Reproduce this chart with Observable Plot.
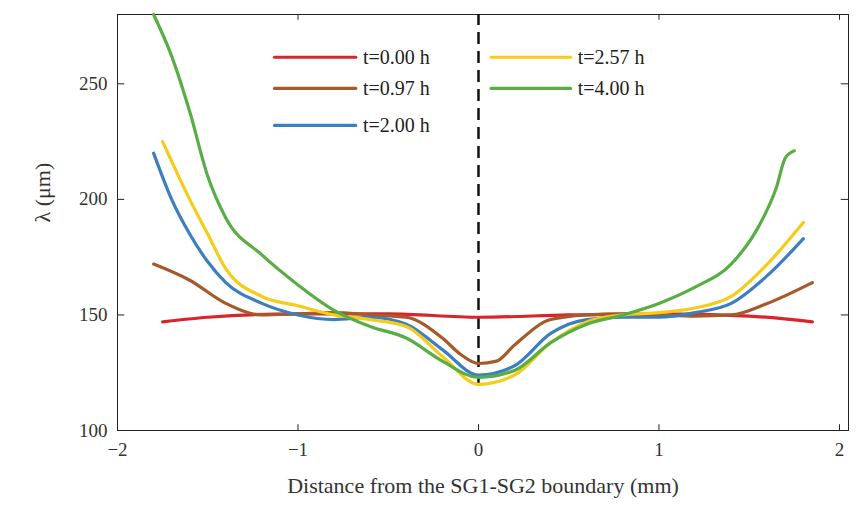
<!DOCTYPE html>
<html>
<head>
<meta charset="utf-8">
<script src="https://cdn.jsdelivr.net/npm/d3@7"></script>
<script src="https://cdn.jsdelivr.net/npm/@observablehq/plot@0.6"></script>
<style>
  body { margin: 0; background: #fff; }
</style>
</head>
<body>
<div id="chart"></div>
<script>
// series: [x (mm), lambda (um)]
const t000 = [[-1.75,147],[-1.5,149],[-1,150.5],[-0.5,150.5],[0,149],[0.5,150],[1,150.5],[1.5,149.5],[1.85,147]]
const t097 = [[-1.8,172],[-1.6,165],[-1.4,155],[-1.2,150],[-1,150.5],[-0.8,151],[-0.6,150],[-0.4,149],[-0.2,140],[-0.1,133],[0,129],[0.1,130],[0.2,137],[0.4,148],[0.6,150],[0.8,150.5],[1,150],[1.2,149.5],[1.4,150],[1.6,155],[1.85,164]]
const t200 = [[-1.8,220],[-1.7,200],[-1.6,185],[-1.5,173],[-1.4,164],[-1.2,155],[-1,150],[-0.8,148],[-0.6,149],[-0.4,146],[-0.2,135],[0,124],[0.2,128],[0.4,142],[0.6,148],[0.8,149],[1,149],[1.2,151],[1.4,155],[1.6,167],[1.8,183]]
const t257 = [[-1.75,225],[-1.6,200],[-1.5,185],[-1.4,170],[-1.2,158],[-1,154],[-0.8,150],[-0.6,148],[-0.4,145],[-0.2,132],[0,120],[0.2,124],[0.4,138],[0.6,147],[0.8,150],[1,151],[1.2,153],[1.4,158],[1.6,172],[1.8,190]]
const t400 = [[-1.8,280],[-1.7,262],[-1.6,238],[-1.5,210],[-1.4,192],[-1.2,176],[-1,163],[-0.8,152],[-0.6,145],[-0.4,140],[-0.2,130],[0,123],[0.2,126],[0.4,138],[0.6,146],[0.8,150],[1,155],[1.2,162],[1.4,172],[1.55,188],[1.65,205],[1.7,218],[1.75,221]]

const labels = ['t=0.00 h', 't=0.97 h', 't=2.00 h', 't=2.57 h', 't=4.00 h']
const colors = ['#d9242b', '#a65a2a', '#3b7fc0', '#f5cc1a', '#58ae45']
const seriesList = [t000, t097, t200, t257, t400]
const xTicks = [-2, -1, 0, 1, 2]
const yTicks = [100, 150, 200, 250]

// legend layout in data coordinates: [x line start, x line end, y]
const legendPos = [[-1.13,-0.68,261.5],[-1.13,-0.68,248],[-1.13,-0.68,232],[0.07,0.51,261.5],[0.07,0.51,248]]

const rows = []
seriesList.forEach((s, i) => s.forEach(([x, y]) => rows.push({x, y, k: labels[i]})))
const legRows = []
legendPos.forEach(([a, b, y], i) => { legRows.push({x: a, y, k: labels[i]}, {x: b, y, k: labels[i]}) })

const chart = Plot.plot({
  width: 864,
  height: 506,
  marginLeft: 117,
  marginRight: 16,
  marginTop: 14,
  marginBottom: 76,
  style: {fontFamily: 'Liberation Serif', fontSize: '19px', color: '#333'},
  x: {domain: [-2, 2.05], label: null},
  y: {domain: [100, 280], label: null},
  color: {domain: labels, range: colors},
  marks: [
    Plot.frame({stroke: '#222'}),
    Plot.axisX({ticks: xTicks, tickSize: 0, tickPadding: 12, tickFormat: d3.format('d'), fontSize: 19}),
    Plot.axisY({ticks: yTicks, tickSize: 0, tickPadding: 10, tickFormat: d3.format('d'), fontSize: 19}),
    Plot.ruleX(xTicks, {y1: 100, y2: 102.5, stroke: '#222'}),
    Plot.ruleX(xTicks, {y1: 277.5, y2: 280, stroke: '#222'}),
    Plot.ruleY(yTicks, {x1: -2, x2: -1.96, stroke: '#222'}),
    Plot.ruleY(yTicks, {x1: 2.01, x2: 2.05, stroke: '#222'}),
    Plot.ruleX([0], {y1: 119, y2: 280, stroke: '#111', strokeWidth: 2.5, strokeDasharray: '12,7'}),
    Plot.line(rows, {x: 'x', y: 'y', z: 'k', stroke: 'k', strokeWidth: 3.2, curve: 'monotone-x'}),
    Plot.line(legRows, {x: 'x', y: 'y', z: 'k', stroke: 'k', strokeWidth: 3.2}),
    Plot.text(legendPos, {x: d => d[1] + 0.04, y: d => d[2], text: (d, i) => labels[i], textAnchor: 'start', fontSize: 20, fill: '#222'}),
    Plot.text(['Distance from the SG1-SG2 boundary (mm)'], {frameAnchor: 'bottom', dy: 62, text: d => d, fontSize: 22, fill: '#333'}),
    Plot.text(['λ (μm)'], {frameAnchor: 'left', dx: -75, rotate: -90, text: d => d, fontSize: 22, fill: '#333'})
  ]
})
d3.select('#chart').append(() => chart)
</script>
</body>
</html>
